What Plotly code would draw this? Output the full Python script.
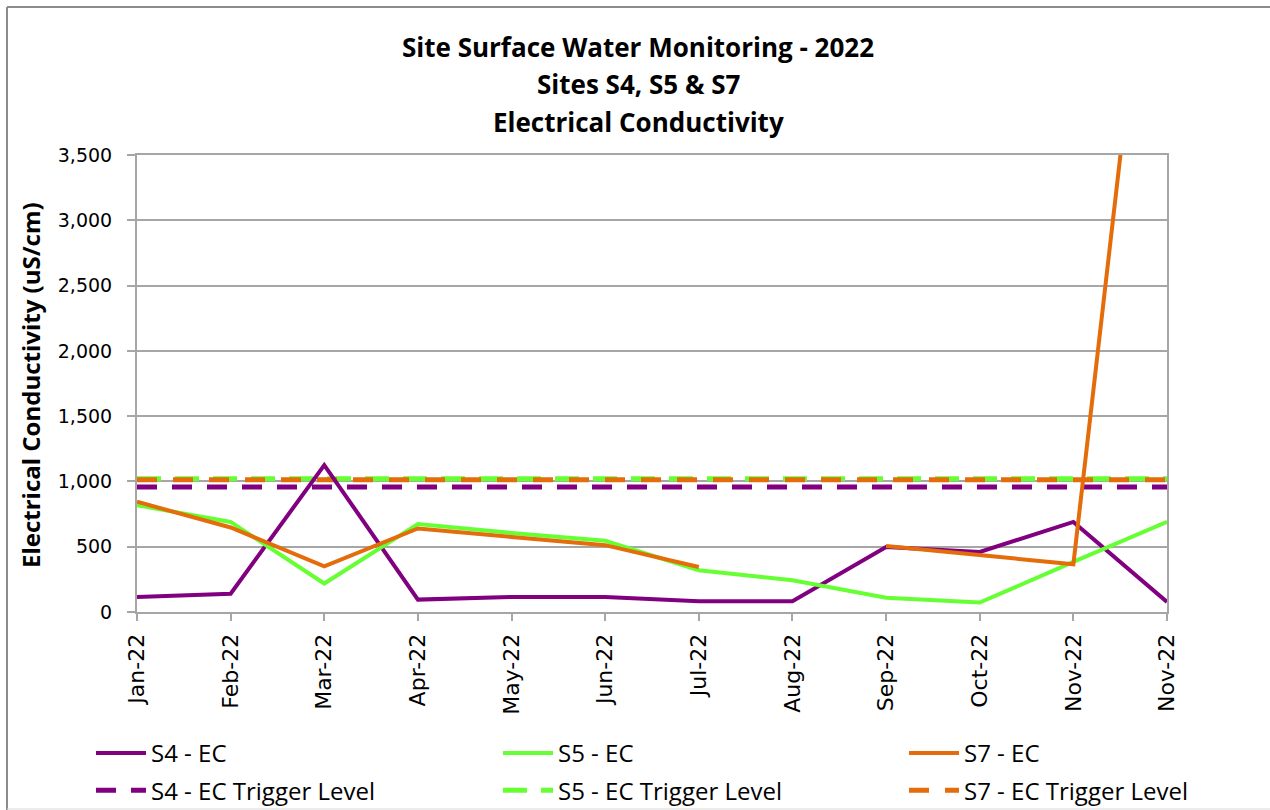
import plotly.graph_objects as go

# Monthly sampling rounds (the last round is a second November sample)
months = ["Jan-22", "Feb-22", "Mar-22", "Apr-22", "May-22", "Jun-22",
          "Jul-22", "Aug-22", "Sep-22", "Oct-22", "Nov-22", "Nov-22"]

# Electrical conductivity results (uS/cm)
s4_ec = [115, 140, 1125, 95, 115, 115, 82, 82, 498, 460, 690, 77]
s5_ec = [818, 690, 218, 673, 605, 545, 320, 243, 110, 72, 384, 690]
s7_ec = [844, 647, 350, 640, 575, 512, 345, None, 505, 435, 366, 6600]

# Trigger levels (uS/cm)
s4_trigger = 958
s5_trigger = 1020
s7_trigger = 1013

W, H = 1270, 810
L, R, T, B = 137, 1167, 155, 612  # plot area in pixels


def px(x):
    return (x - L) / (R - L)


def py(y):
    return (B - y) / (B - T)


xs = list(range(len(months)))

PURPLE = "#800080"
GREEN = "#66FF33"
ORANGE = "#E46C0A"

fig = go.Figure()

series = [
    ("S4 - EC", s4_ec, PURPLE, "legend"),
    ("S5 - EC", s5_ec, GREEN, "legend2"),
    ("S7 - EC", s7_ec, ORANGE, "legend3"),
]
triggers = [
    ("S4 - EC Trigger Level", s4_trigger, PURPLE, "20px,15px", "legend"),
    ("S5 - EC Trigger Level", s5_trigger, GREEN, "24px,14px", "legend2"),
    ("S7 - EC Trigger Level", s7_trigger, ORANGE, "20px,16px", "legend3"),
]

for name, level, color, dash, leg in triggers:
    fig.add_trace(go.Scatter(
        x=xs, y=[level] * len(xs), name=name, mode="lines",
        line=dict(color=color, width=5, dash=dash),
        legend=leg, legendgroup=name, legendrank=2, hoverinfo="skip",
    ))

for name, vals, color, leg in series:
    fig.add_trace(go.Scatter(
        x=xs, y=vals, name=name, mode="lines",
        line=dict(color=color, width=4),
        connectgaps=False, legend=leg, legendgroup=name, legendrank=1,
    ))

GRID = "#A6A6A6"

fig.update_xaxes(
    range=[0, len(months) - 1], tickmode="array", tickvals=xs, ticktext=months,
    tickangle=-90, tickfont=dict(family="DejaVu Sans", size=22, color="#000000"),
    showgrid=False, showline=True, linecolor=GRID, linewidth=2, mirror=True,
    ticks="outside", ticklen=7, tickcolor=GRID, tickwidth=2, zeroline=False,
    ticklabelstandoff=4,
)
fig.update_yaxes(
    range=[0, 3500], dtick=500, tickformat=",d",
    tickfont=dict(family="DejaVu Sans", size=19, color="#000000"),
    showgrid=True, gridcolor=GRID, gridwidth=2,
    showline=True, linecolor=GRID, linewidth=2, mirror=True,
    ticks="outside", ticklen=8, tickcolor=GRID, tickwidth=2, zeroline=False,
    ticklabelstandoff=11,
)

title_font = dict(family="Open Sans", size=26, color="#000000")
annotations = []
for text, yc in [("Site Surface Water Monitoring - 2022", 47),
                 ("Sites S4, S5 & S7", 84),
                 ("Electrical Conductivity", 122)]:
    annotations.append(dict(
        text=f"<b>{text}</b>", x=px(638), y=py(yc), xref="paper", yref="paper",
        xanchor="center", yanchor="middle", showarrow=False, font=title_font,
    ))
annotations.append(dict(
    text="<b>Electrical Conductivity (uS/cm)</b>", x=px(30), y=py(385),
    xref="paper", yref="paper", xanchor="center", yanchor="middle",
    textangle=-90, showarrow=False,
    font=dict(family="Open Sans", size=24, color="#000000"),
))

# chart frame
shapes = [
    dict(type="line", xref="paper", yref="paper", x0=px(7), x1=px(1280),
         y0=py(7), y1=py(7), line=dict(color="#8C8C8C", width=2)),
    dict(type="line", xref="paper", yref="paper", x0=px(7), x1=px(7),
         y0=py(7), y1=py(815), line=dict(color="#8C8C8C", width=2)),
    dict(type="line", xref="paper", yref="paper", x0=px(7), x1=px(1280),
         y0=py(809), y1=py(809), line=dict(color="#D9D9D9", width=1)),
]

legend_style = dict(
    orientation="v", yanchor="top", xanchor="left",
    xref="container", yref="container",
    font=dict(family="Open Sans", size=24, color="#000000"),
    bgcolor="rgba(0,0,0,0)", itemwidth=50, tracegroupgap=3,
    traceorder="grouped",
)
leg_top = 1 - 731 / H

fig.update_layout(
    width=W, height=H,
    margin=dict(l=L, r=W - R, t=T, b=H - B, pad=0, autoexpand=False),
    paper_bgcolor="#FFFFFF", plot_bgcolor="#FFFFFF",
    annotations=annotations, shapes=shapes,
    showlegend=True,
    legend=dict(legend_style, x=91 / W, y=leg_top),
    legend2=dict(legend_style, x=498 / W, y=leg_top),
    legend3=dict(legend_style, x=904 / W, y=leg_top),
    hovermode=False,
)

fig.write_html("out.html")
